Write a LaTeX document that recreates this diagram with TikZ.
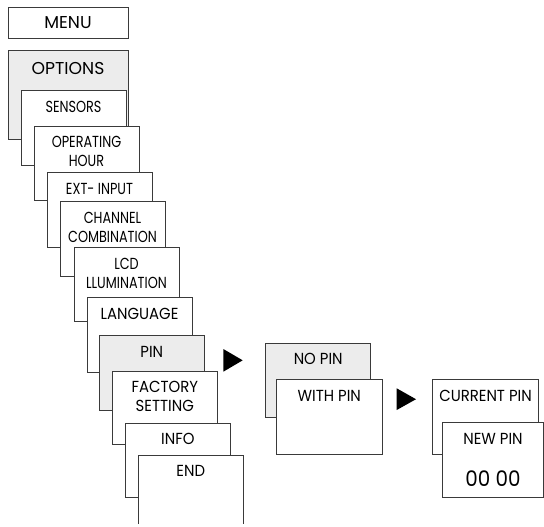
\documentclass[tikz,border=0pt]{standalone}
\usepackage{fontspec}
\setmainfont{Poppins}
\newfontfamily\condfont[FakeStretch=0.8]{Poppins}
\newfontfamily\narrowfont[FakeStretch=0.93]{Poppins}
\definecolor{menuline}{HTML}{3A3A3A}
\definecolor{menugray}{HTML}{ECECEC}
\tikzset{
  menubox/.style={draw=menuline,line width=0.5pt,fill=white},
  selbox/.style={draw=menuline,line width=0.5pt,fill=menugray},
  toplbl/.style={inner sep=0pt,font=\fontsize{8.6}{10}\selectfont},
  lbl/.style={inner sep=0pt,align=center,font=\narrowfont\fontsize{8}{9.5}\selectfont},
  clbl/.style={inner sep=0pt,align=center,font=\condfont\fontsize{8}{9.5}\selectfont},
}
\begin{document}
\begin{tikzpicture}[x=0.5pt,y=-0.5pt]
\useasboundingbox (0,0) rectangle (544,526);
% main menu column
\draw[menubox] (8,7) rectangle (128,38);
\node[toplbl] (menu) at (68,22.5) {MENU};
\draw[selbox] (8,50) rectangle (128,139);
\node[toplbl] (options) at (68,68) {OPTIONS};
\draw[menubox] (21,90) rectangle (126,165);
\node[clbl] (sensors) at (73.5,107) {SENSORS};
\draw[menubox] (34,126) rectangle (139,200.7);
\node[clbl] (operating) at (86.5,151.5) {OPERATING\\HOUR};
\draw[menubox] (47,172.7) rectangle (152,247);
\node[clbl] (extinput) at (99.5,189.3) {EXT- INPUT};
\draw[menubox] (60,201.7) rectangle (165,276);
\node[clbl] (channel) at (112.5,227.4) {CHANNEL\\COMBINATION};
\draw[menubox] (74,247) rectangle (179,321.7);
\node[clbl] (lcd) at (126.5,273) {LCD\\LLUMINATION};
\draw[menubox] (87,297) rectangle (192,372);
\node[lbl] (language) at (139.5,314) {LANGUAGE};
\draw[selbox] (99.3,335.7) rectangle (204.3,410);
\node[lbl] (pin) at (151.8,352) {PIN};
\draw[menubox] (112.3,371) rectangle (217.3,444);
\node[lbl] (factory) at (164.8,396.2) {FACTORY\\SETTING};
\draw[menubox] (125,423.3) rectangle (230.7,497);
\node[lbl] (info) at (177.8,438.8) {INFO};
\filldraw[menubox] (138.3,524) -- (138.3,455) -- (243.3,455) -- (243.3,524);
\node[lbl] (end) at (190.8,471) {END};
% pin submenu
\fill[black] (223.3,349) -- (223.3,371.7) -- (242.7,360.3) -- cycle;
\draw[selbox] (265.7,343.3) rectangle (370.7,417.7);
\node[lbl] (nopin) at (318.2,359) {NO PIN};
\draw[menubox] (276.7,379.3) rectangle (382,454);
\node[lbl] (withpin) at (329.3,395.5) {WITH PIN};
\fill[black] (396.7,388.3) -- (396.7,410) -- (416,399.2) -- cycle;
\draw[menubox] (432.7,379.3) rectangle (538.3,454);
\node[lbl] (currentpin) at (485.5,395.5) {CURRENT PIN};
\draw[menubox] (442.5,422.7) rectangle (543.3,497.7);
\node[lbl] (newpin) at (493,439) {NEW PIN};
\node[lbl,font=\narrowfont\fontsize{10.7}{12}\selectfont] (pincode) at (493,479) {00 00};
\end{tikzpicture}
\end{document}
